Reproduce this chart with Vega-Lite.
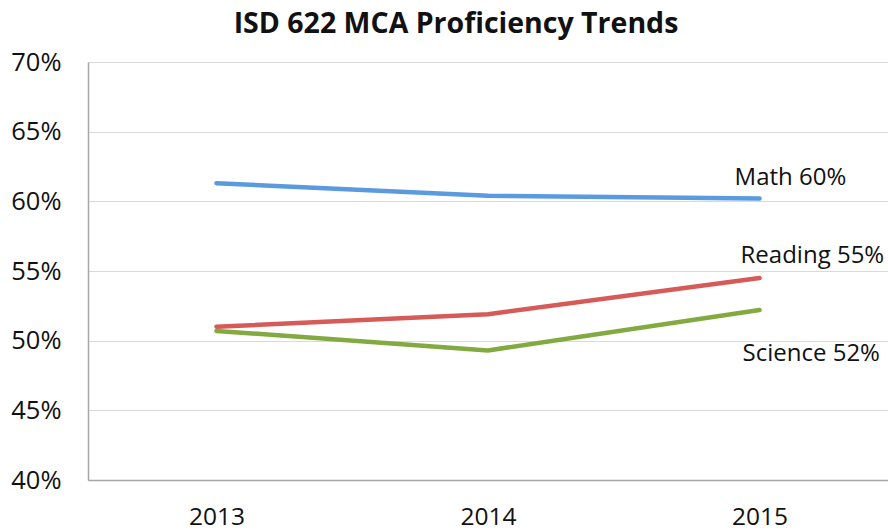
{
  "$schema": "https://vega.github.io/schema/vega-lite/v6.json",
  "autosize": {"type": "none"},
  "width": 800,
  "height": 418,
  "padding": {"left": 88, "top": 62, "right": 0, "bottom": 51},
  "background": "white",
  "title": {
    "text": "ISD 622 MCA Proficiency Trends",
    "font": "Open Sans",
    "fontSize": 28.5,
    "fontWeight": "bold",
    "color": "#111111",
    "anchor": "middle",
    "dx": -32,
    "offset": 12
  },
  "config": {
    "view": {"stroke": null},
    "font": "Open Sans"
  },
  "data": {
    "values": [
      {"year": "2013", "subject": "Math", "value": 0.613},
      {"year": "2014", "subject": "Math", "value": 0.604},
      {"year": "2015", "subject": "Math", "value": 0.602},
      {"year": "2013", "subject": "Reading", "value": 0.510},
      {"year": "2014", "subject": "Reading", "value": 0.519},
      {"year": "2015", "subject": "Reading", "value": 0.545},
      {"year": "2013", "subject": "Science", "value": 0.507},
      {"year": "2014", "subject": "Science", "value": 0.493},
      {"year": "2015", "subject": "Science", "value": 0.522}
    ]
  },
  "encoding": {
    "x": {
      "field": "year",
      "type": "ordinal",
      "scale": {"type": "point", "padding": 0.473},
      "axis": {
        "title": null,
        "labelAngle": 0,
        "labelFont": "Open Sans",
        "labelFontSize": 24.5,
        "labelColor": "#111111",
        "labelPadding": 25,
        "ticks": false,
        "domainColor": "#a6a6a6",
        "domainWidth": 1.5,
        "grid": false
      }
    },
    "y": {
      "field": "value",
      "type": "quantitative",
      "scale": {"domain": [0.4, 0.7], "nice": false, "zero": false},
      "axis": {
        "title": null,
        "format": ".0%",
        "values": [0.4, 0.45, 0.5, 0.55, 0.6, 0.65, 0.7],
        "labelFont": "Open Sans",
        "labelFontSize": 25.5,
        "labelColor": "#111111",
        "labelPadding": 27,
        "ticks": false,
        "domainColor": "#a6a6a6",
        "domainWidth": 1.5,
        "grid": true,
        "gridColor": "#d9d9d9",
        "gridWidth": 1.2
      }
    }
  },
  "layer": [
    {
      "mark": {"type": "line", "strokeWidth": 4.5, "strokeCap": "round"},
      "encoding": {
        "color": {
          "field": "subject",
          "type": "nominal",
          "scale": {"domain": ["Math", "Reading", "Science"], "range": ["#5a9be0", "#d65a57", "#82aa40"]},
          "legend": null
        }
      }
    },
    {
      "transform": [{"filter": "datum.year == '2015' && datum.subject == 'Math'"}],
      "mark": {"type": "text", "align": "left", "baseline": "middle", "dx": -25, "dy": -21, "fontSize": 24, "font": "Open Sans", "color": "#111111"},
      "encoding": {"text": {"value": "Math 60%"}}
    },
    {
      "transform": [{"filter": "datum.year == '2015' && datum.subject == 'Reading'"}],
      "mark": {"type": "text", "align": "left", "baseline": "middle", "dx": -19, "dy": -22, "fontSize": 24, "font": "Open Sans", "color": "#111111"},
      "encoding": {"text": {"value": "Reading 55%"}}
    },
    {
      "transform": [{"filter": "datum.year == '2015' && datum.subject == 'Science'"}],
      "mark": {"type": "text", "align": "left", "baseline": "middle", "dx": -17, "dy": 44, "fontSize": 24, "font": "Open Sans", "color": "#111111"},
      "encoding": {"text": {"value": "Science 52%"}}
    }
  ]
}
